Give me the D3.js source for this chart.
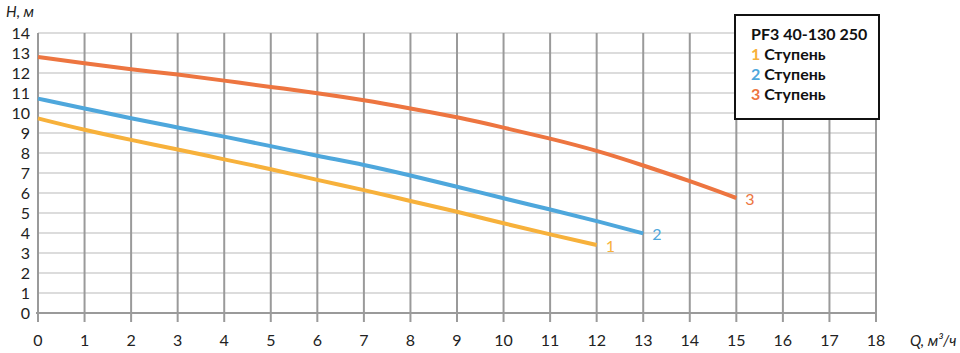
<!DOCTYPE html>
<html>
<head>
<meta charset="utf-8">
<script src="https://cdn.jsdelivr.net/npm/d3@7"></script>
<style>
  body { margin: 0; background: #fff; }
  svg { display: block; font-family: Lato, "Noto Sans", sans-serif; }
</style>
</head>
<body>
<svg id="chart"></svg>
<script>
const flowQ = [0, 1, 2, 3, 4, 5, 6, 7, 8, 9, 10, 11, 12, 13, 14, 15];
const stage1 = [9.73, 9.15, 8.65, 8.18, 7.68, 7.2, 6.65, 6.15, 5.6, 5.07, 4.48, 3.93, 3.4];
const stage2 = [10.72, 10.23, 9.73, 9.28, 8.82, 8.35, 7.85, 7.42, 6.88, 6.32, 5.73, 5.18, 4.6, 3.98];
const stage3 = [12.8, 12.48, 12.18, 11.93, 11.62, 11.3, 11.0, 10.65, 10.23, 9.8, 9.27, 8.73, 8.13, 7.38, 6.6, 5.75];
const seriesNames = ["1", "2", "3"];
const seriesColors = ["#f7b13b", "#4ea7dc", "#ed7540"];
const xTicks = d3.range(0, 19);
const yTicks = d3.range(0, 15);
const legendTitle = "PF3 40-130 250";
const legendLabel = "Ступень";

const W = 960, H = 353;
const margin = { top: 33, right: 84, bottom: 40, left: 38 };
const width = W - margin.left - margin.right,
      height = H - margin.top - margin.bottom;

const svg = d3.select("#chart").attr("width", W).attr("height", H);
const g = svg.append("g").attr("transform", `translate(${margin.left},${margin.top})`);

const x = d3.scaleLinear().domain([0, 18]).range([0, width]);
const y = d3.scaleLinear().domain([0, 14]).range([height, 0]);

// horizontal grid
g.selectAll(".hgrid").data(yTicks.filter(d => d > 0)).enter().append("line")
  .attr("x1", 0).attr("x2", width)
  .attr("y1", d => y(d)).attr("y2", d => y(d))
  .attr("stroke", "#dcdcdc").attr("stroke-width", 2);

// vertical grid + ticks below axis
g.selectAll(".vgrid").data(xTicks).enter().append("line")
  .attr("x1", d => x(d)).attr("x2", d => x(d))
  .attr("y1", 0).attr("y2", height + 9)
  .attr("stroke", "#9a9a9a").attr("stroke-width", 2);

// x axis line
g.append("line")
  .attr("x1", -2).attr("x2", width)
  .attr("y1", height).attr("y2", height)
  .attr("stroke", "#9a9a9a").attr("stroke-width", 2);

// tick labels
g.selectAll(".xl").data(xTicks).enter().append("text")
  .attr("x", d => x(d)).attr("y", height + 33)
  .attr("text-anchor", "middle")
  .style("font-size", "16px").attr("fill", "#222")
  .text(d => d);

g.selectAll(".yl").data(yTicks).enter().append("text")
  .attr("x", -8).attr("y", d => y(d) + 6)
  .attr("text-anchor", "end")
  .style("font-size", "16px").attr("fill", "#222")
  .text(d => d);

// axis titles
svg.append("text").attr("x", 6).attr("y", 17)
  .style("font-size", "15px").style("font-style", "italic").attr("fill", "#222")
  .text("H, м");
svg.append("text").attr("x", 910).attr("y", 346)
  .style("font-size", "15px").style("font-style", "italic").attr("fill", "#222")
  .text("Q, м³/ч");

// curves
const series = [stage1, stage2, stage3].map((vals, i) => ({
  name: seriesNames[i],
  color: seriesColors[i],
  points: vals.map((v, j) => ({ q: flowQ[j], h: v }))
}));

const line = d3.line().x(d => x(d.q)).y(d => y(d.h)).curve(d3.curveBasis);

g.selectAll(".curve").data(series).enter().append("path")
  .attr("d", d => line(d.points))
  .attr("fill", "none")
  .attr("stroke", d => d.color)
  .attr("stroke-width", 4)
  .attr("stroke-linecap", "butt");

g.selectAll(".endlabel").data(series).enter().append("text")
  .attr("x", d => x(d.points[d.points.length - 1].q) + 9)
  .attr("y", d => y(d.points[d.points.length - 1].h) + 7)
  .style("font-size", "16px")
  .attr("fill", d => d.color)
  .text(d => d.name);

// legend
const lg = svg.append("g").attr("transform", "translate(735,15)");
lg.append("rect").attr("width", 144).attr("height", 104)
  .attr("fill", "#fff").attr("stroke", "#111").attr("stroke-width", 2);
lg.append("text").attr("x", 16).attr("y", 25)
  .style("font-size", "16px").style("font-weight", "bold").attr("fill", "#111")
  .text(legendTitle);
series.forEach((s, i) => {
  const t = lg.append("text").attr("x", 16).attr("y", 45 + i * 20)
    .style("font-size", "16px").style("font-weight", "bold");
  t.append("tspan").attr("fill", s.color).text(s.name);
  t.append("tspan").attr("fill", "#111").text(" " + legendLabel);
});
</script>
</body>
</html>
